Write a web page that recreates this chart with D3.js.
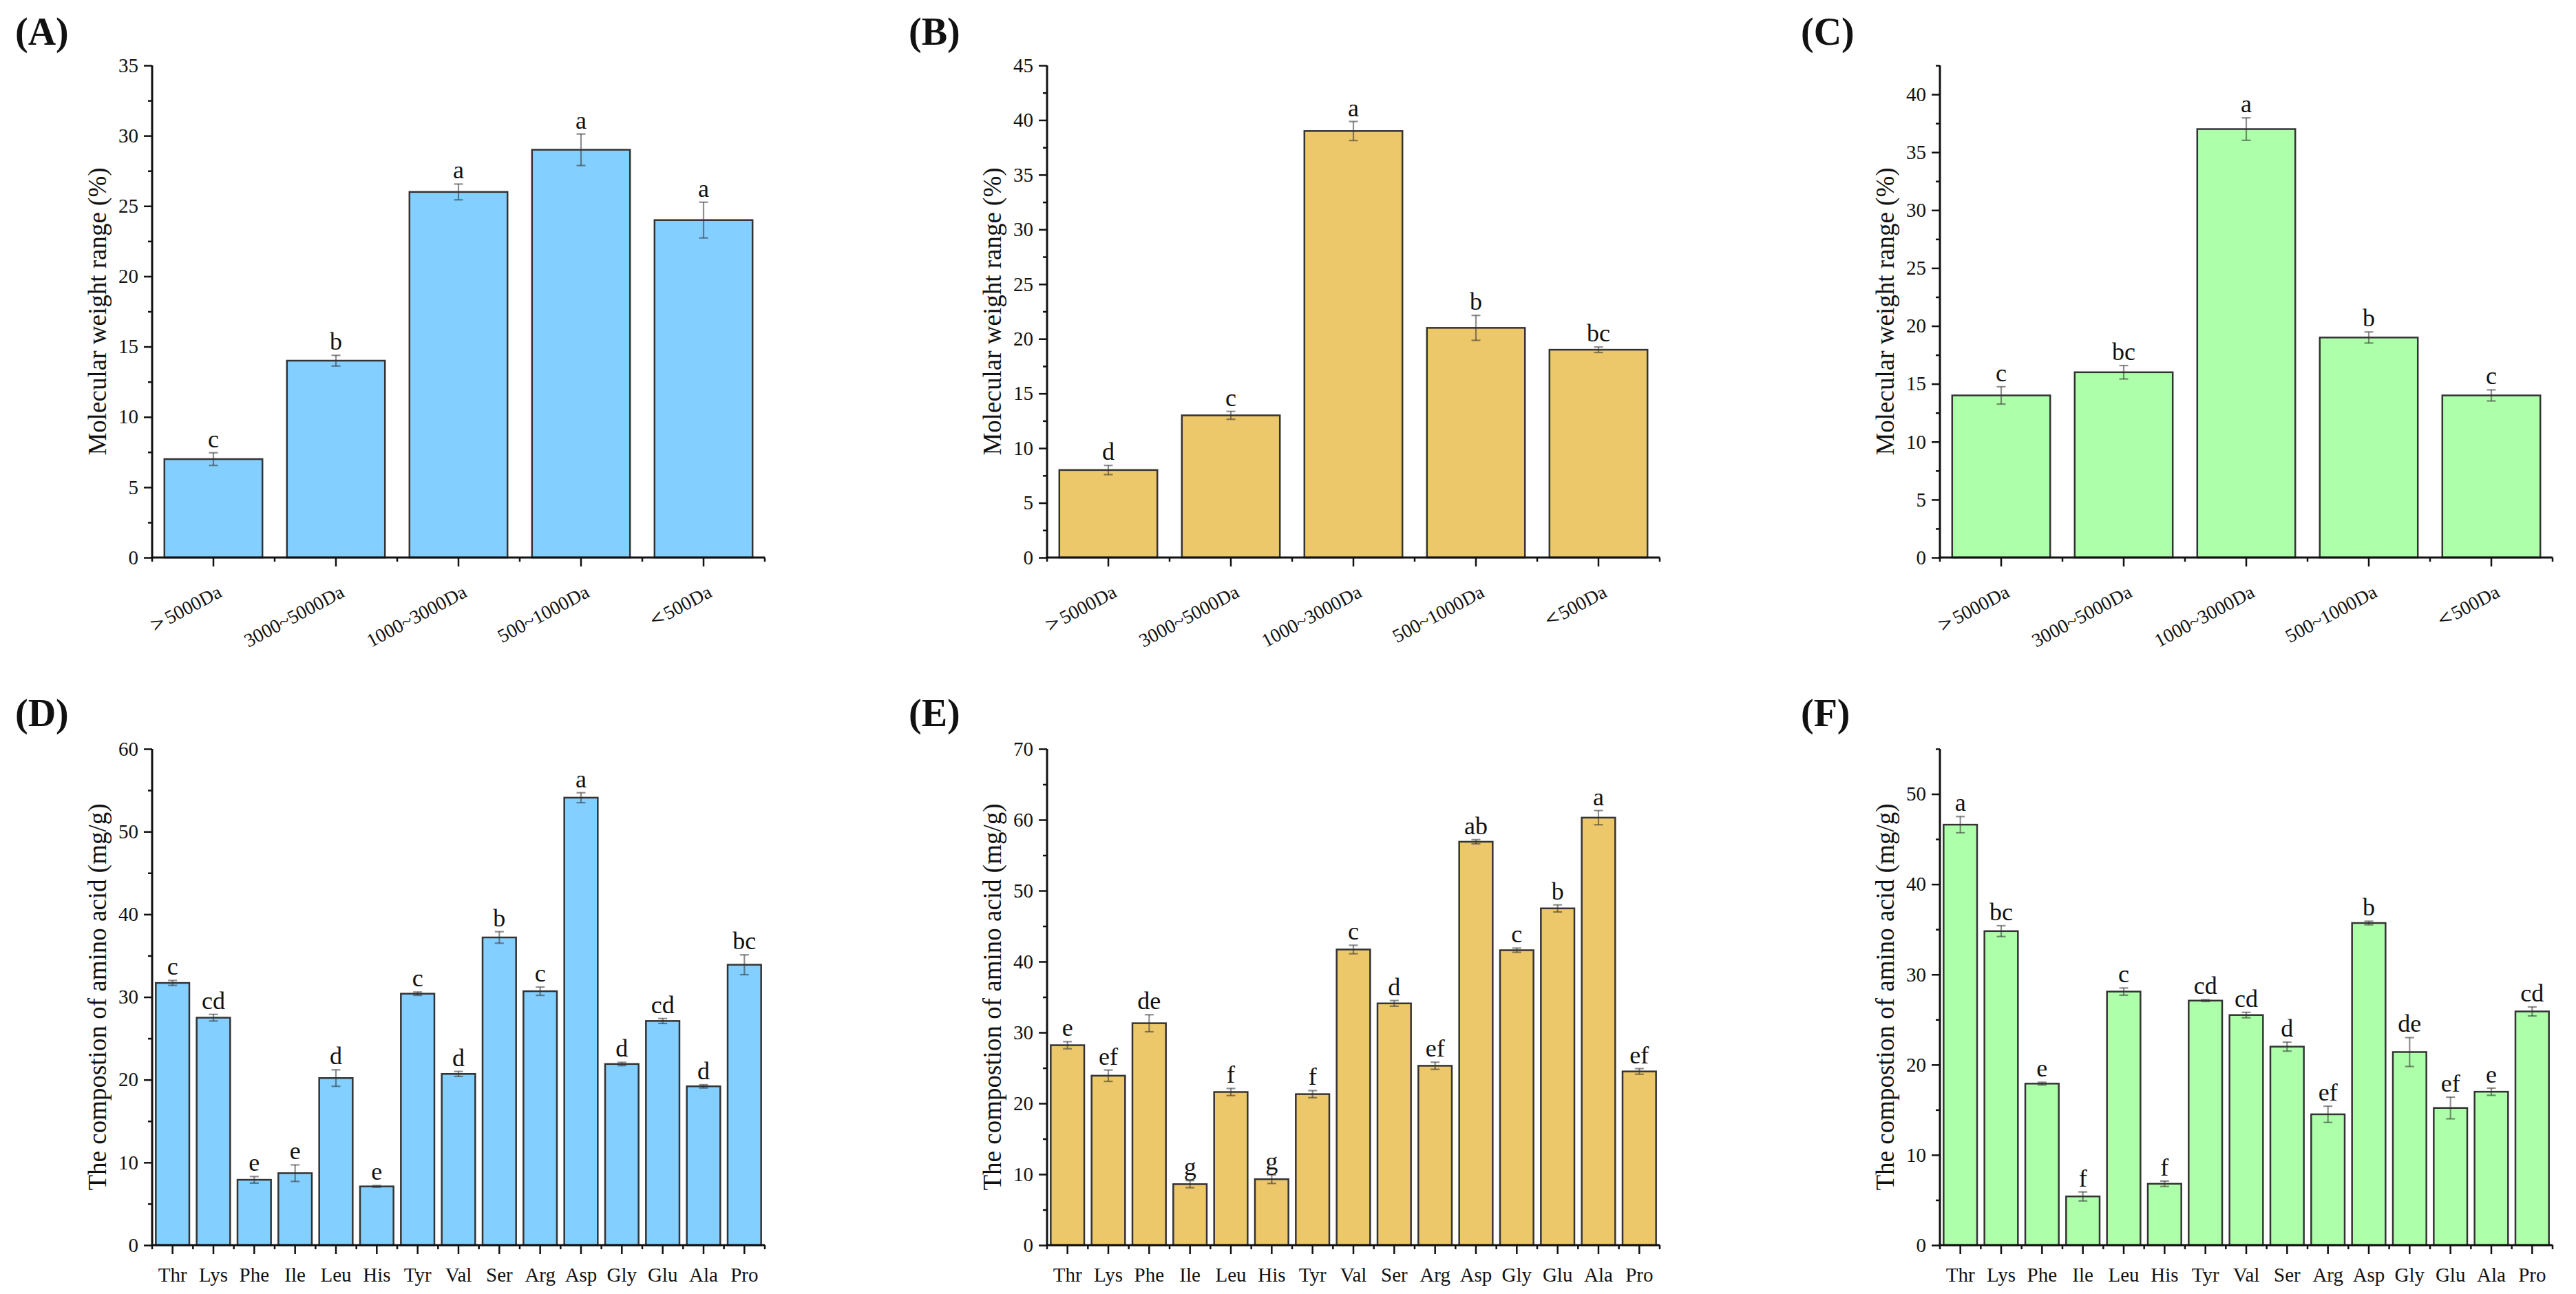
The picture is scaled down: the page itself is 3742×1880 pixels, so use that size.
<!DOCTYPE html>
<html>
<head>
<meta charset="utf-8">
<script src="https://cdn.jsdelivr.net/npm/d3@7"></script>
<style>
  @font-face { font-family: "SerifX"; src: local("Liberation Serif"), local("LiberationSerif"), local("LiberationSerif-Regular"), local("Times New Roman"), local("Tinos"); font-weight: normal; }
  @font-face { font-family: "SerifX"; src: local("Liberation Serif Bold"), local("LiberationSerif-Bold"), local("Times New Roman Bold"), local("Tinos Bold"); font-weight: bold; }
  html, body { margin: 0; padding: 0; background: #fff; }
  svg { display: block; }
  text { fill: #111; }
</style>
</head>
<body>
<svg id="chart" width="3742" height="1880"></svg>
<script>
// ---------- DATA ----------
const mwCategories = ["＞5000Da", "3000~5000Da", "1000~3000Da", "500~1000Da", "＜500Da"];

const mwA = [7, 14, 26, 29, 24];
const mwAErr = [0.45, 0.38, 0.56, 1.12, 1.27];
const mwALetters = ["c", "b", "a", "a", "a"];

const mwB = [8, 13, 39, 21, 19];
const mwBErr = [0.42, 0.36, 0.87, 1.14, 0.25];
const mwBLetters = ["d", "c", "a", "b", "bc"];

const mwC = [14, 16, 37, 19, 14];
const mwCErr = [0.75, 0.58, 0.97, 0.48, 0.48];
const mwCLetters = ["c", "bc", "a", "b", "c"];

const aaCategories = ["Thr", "Lys", "Phe", "Ile", "Leu", "His", "Tyr", "Val", "Ser", "Arg", "Asp", "Gly", "Glu", "Ala", "Pro"];

const aaD = [31.7, 27.5, 7.9, 8.7, 20.2, 7.1, 30.4, 20.7, 37.2, 30.7, 54.1, 21.9, 27.1, 19.2, 33.9];
const aaDErr = [0.3, 0.4, 0.4, 1.0, 1.0, 0.1, 0.2, 0.3, 0.7, 0.5, 0.6, 0.2, 0.3, 0.2, 1.2];
const aaDLetters = ["c", "cd", "e", "e", "d", "e", "c", "d", "b", "c", "a", "d", "cd", "d", "bc"];

const aaE = [28.2, 23.9, 31.3, 8.6, 21.6, 9.3, 21.3, 41.7, 34.1, 25.3, 56.9, 41.6, 47.5, 60.3, 24.5];
const aaEErr = [0.5, 0.8, 1.2, 0.5, 0.5, 0.6, 0.5, 0.6, 0.4, 0.5, 0.3, 0.3, 0.5, 1.0, 0.4];
const aaELetters = ["e", "ef", "de", "g", "f", "g", "f", "c", "d", "ef", "ab", "c", "b", "a", "ef"];

const aaF = [46.6, 34.8, 17.9, 5.4, 28.1, 6.8, 27.1, 25.5, 22.0, 14.5, 35.7, 21.4, 15.2, 17.0, 25.9];
const aaFErr = [0.9, 0.6, 0.15, 0.5, 0.4, 0.3, 0.1, 0.3, 0.5, 0.9, 0.2, 1.6, 1.2, 0.4, 0.5];
const aaFLetters = ["a", "bc", "e", "f", "c", "f", "cd", "cd", "d", "ef", "b", "de", "ef", "e", "cd"];

const mwYMax = [35, 45, 42.5];
const aaYMax = [60, 70, 55];
const mwTitle = "Molecular weight range (%)";
const aaTitle = "The compostion of amino acid (mg/g)";
const panelLabels = ["(A)", "(B)", "(C)", "(D)", "(E)", "(F)"];

// ---------- LAYOUT / STYLE ----------
const colors = ["#83CFFF", "#EDC86B", "#AEFFAA"];
const colX = [221, 1521, 2818];
const plotW = 890;
const rows = [{ top: 95, bottom: 810 }, { top: 1088, bottom: 1809 }];
const labelPos = [[22, 65], [1320, 65], [2616, 65], [22, 1055], [1320, 1055], [2616, 1055]];

const svg = d3.select("#chart");

// ---------- font selection (Times-like metrics wanted) ----------
const probeText = "Molecular weight range (%)";
const targetW = 1130; // Times/Liberation width of probeText at 100px
function probe(fam) {
  const t = svg.append("text").attr("x", -5000).attr("y", -5000)
    .style("font-family", fam).style("font-size", "100px").text(probeText);
  const w = t.node().getComputedTextLength();
  t.remove();
  return w;
}
const candidates = ['"Liberation Serif"', '"SerifX"', '"Times New Roman"', 'Tinos', 'Times', '"DejaVu Serif Condensed"', '"DejaVu Serif"', 'serif'];
let best = candidates[0], bestW = probe(best);
candidates.forEach(c => { const w = probe(c); if (Math.abs(w - targetW) < Math.abs(bestW - targetW)) { best = c; bestW = w; } });
const FONT = best + ', serif';
const FS = Math.abs(bestW - targetW) < 40 ? 1 : Math.max(0.8, targetW / bestW);
const fs = v => v * FS;

function drawPanel(opts) {
  const { x0, top, bottom, cats, vals, errs, letters, ymax, major, color, title, rotate, catPad } = opts;
  const g = svg.append("g").style("font-family", FONT);

  const x = d3.scaleBand().domain(cats).range([x0, x0 + plotW]).paddingInner(catPad).paddingOuter(catPad / 2);
  const y = d3.scaleLinear().domain([0, ymax]).range([bottom, top]);

  // bars
  g.selectAll("rect.bar").data(cats).enter().append("rect")
    .attr("x", d => x(d))
    .attr("y", (d, i) => y(vals[i]))
    .attr("width", x.bandwidth())
    .attr("height", (d, i) => y(0) - y(vals[i]))
    .attr("fill", color)
    .attr("stroke", "#333")
    .attr("stroke-width", 2.5);

  // error bars + significance letters
  const capW = 13;
  const eg = g.append("g").attr("stroke", "#333").attr("stroke-opacity", 0.55).attr("stroke-width", 2.2);
  cats.forEach((c, i) => {
    const cx = x(c) + x.bandwidth() / 2;
    const yt = y(vals[i] + errs[i]), yb = y(vals[i] - errs[i]);
    eg.append("line").attr("x1", cx).attr("x2", cx).attr("y1", yt).attr("y2", yb);
    eg.append("line").attr("x1", cx - capW / 2).attr("x2", cx + capW / 2).attr("y1", yt).attr("y2", yt);
    eg.append("line").attr("x1", cx - capW / 2).attr("x2", cx + capW / 2).attr("y1", yb).attr("y2", yb);
    g.append("text").attr("x", cx).attr("y", yt - 8)
      .attr("text-anchor", "middle").style("font-size", fs(36) + "px").text(letters[i]);
  });

  // y axis
  const majorTicks = d3.range(0, ymax + 0.001, major);
  const minorTicks = d3.range(major / 2, ymax + 0.001, major);
  const yAxis = g.append("g").attr("transform", `translate(${x0},0)`)
    .call(d3.axisLeft(y).tickValues(majorTicks).tickSize(12).tickPadding(8).tickFormat(d3.format("d")));
  yAxis.attr("font-family", null).attr("font-size", null);
  yAxis.select(".domain").remove();
  yAxis.selectAll(".tick line").attr("stroke", "#111").attr("stroke-width", 2.5);
  yAxis.selectAll(".tick text").style("font-size", fs(29) + "px").style("font-family", FONT).attr("fill", "#111");
  const yMinor = g.append("g").attr("transform", `translate(${x0},0)`)
    .call(d3.axisLeft(y).tickValues(minorTicks).tickSize(6).tickFormat(""));
  yMinor.select(".domain").remove();
  yMinor.selectAll(".tick line").attr("stroke", "#111").attr("stroke-width", 2.5);
  g.append("line").attr("x1", x0).attr("x2", x0).attr("y1", top).attr("y2", bottom + 1.5)
    .attr("stroke", "#111").attr("stroke-width", 3);

  // x axis
  const xAxis = g.append("g").attr("transform", `translate(0,${bottom})`)
    .call(d3.axisBottom(x).tickSize(13).tickPadding(14));
  xAxis.attr("font-family", null).attr("font-size", null);
  xAxis.select(".domain").remove();
  xAxis.selectAll(".tick line").attr("stroke", "#111").attr("stroke-width", 2.5);
  xAxis.selectAll(".tick text").style("font-family", FONT).attr("fill", "#111");
  if (rotate) {
    xAxis.selectAll(".tick text")
      .style("font-size", fs(28) + "px")
      .attr("text-anchor", "end")
      .attr("dy", 0)
      .attr("y", 0)
      .attr("transform", "translate(14,56) rotate(-28)")
      .each(function (d) {
        if (/^[＞＜]/.test(d)) {
          const t = d3.select(this);
          t.text(null);
          t.append("tspan").style("font-size", "1.2em").text(d[0]);
          t.append("tspan").attr("dx", "-0.15em").text(d.slice(1));
        }
      });
  } else {
    xAxis.selectAll(".tick text").style("font-size", fs(29) + "px").attr("dy", "0.9em");
  }
  // minor ticks at band boundaries
  const step = x.step();
  const bounds = d3.range(cats.length + 1).map(k => x0 + k * step);
  g.selectAll("line.xminor").data(bounds).enter().append("line")
    .attr("x1", d => d).attr("x2", d => d).attr("y1", bottom).attr("y2", bottom + 6)
    .attr("stroke", "#111").attr("stroke-width", 2.5);
  g.append("line").attr("x1", x0 - 1.5).attr("x2", x0 + plotW).attr("y1", bottom).attr("y2", bottom)
    .attr("stroke", "#111").attr("stroke-width", 3);

  // y title
  g.append("text")
    .attr("transform", `translate(${x0 - 80},${(top + bottom) / 2}) rotate(-90)`)
    .attr("text-anchor", "middle").attr("dy", "0.35em")
    .style("font-size", fs(37) + "px").text(title);
}

const mwVals = [mwA, mwB, mwC], mwErrs = [mwAErr, mwBErr, mwCErr], mwLets = [mwALetters, mwBLetters, mwCLetters];
const aaVals = [aaD, aaE, aaF], aaErrs = [aaDErr, aaEErr, aaFErr], aaLets = [aaDLetters, aaELetters, aaFLetters];

for (let c = 0; c < 3; c++) {
  drawPanel({
    x0: colX[c], top: rows[0].top, bottom: rows[0].bottom, cats: mwCategories,
    vals: mwVals[c], errs: mwErrs[c], letters: mwLets[c], ymax: mwYMax[c], major: 5,
    color: colors[c], title: mwTitle, rotate: true, catPad: 0.2
  });
  drawPanel({
    x0: colX[c], top: rows[1].top, bottom: rows[1].bottom, cats: aaCategories,
    vals: aaVals[c], errs: aaErrs[c], letters: aaLets[c], ymax: aaYMax[c], major: 10,
    color: colors[c], title: aaTitle, rotate: false, catPad: 0.18
  });
}

panelLabels.forEach((t, i) => {
  svg.append("text").attr("x", labelPos[i][0]).attr("y", labelPos[i][1])
    .style("font-family", FONT).style("font-size", fs(56) + "px").style("font-weight", "bold").text(t);
});
</script>
</body>
</html>
